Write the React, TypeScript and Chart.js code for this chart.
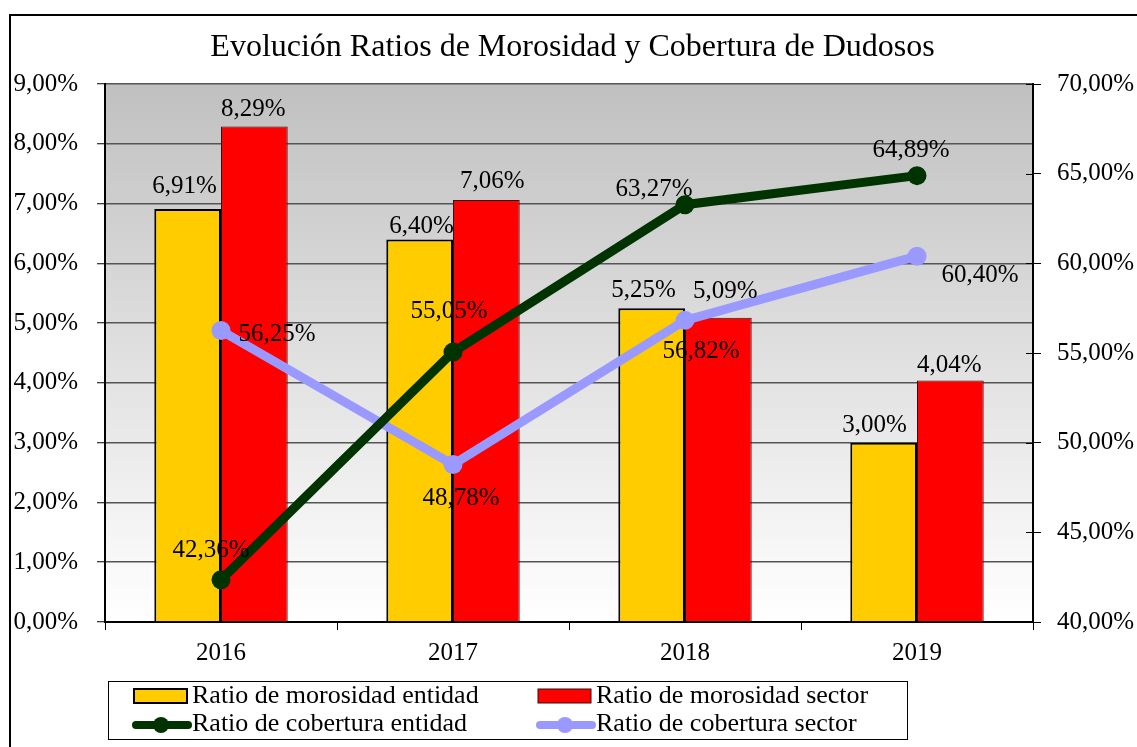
import React, { useEffect, useRef } from 'react';
import { Chart, registerables } from 'chart.js';

Chart.register(...registerables);

const FONT = "'Liberation Serif', 'Times New Roman', serif";

const chartTitle = 'Evolución Ratios de Morosidad y Cobertura de Dudosos';
const categories = ['2016', '2017', '2018', '2019'];
const seriesNames = [
  'Ratio de morosidad entidad',
  'Ratio de morosidad sector',
  'Ratio de cobertura entidad',
  'Ratio de cobertura sector',
];
const morosidadEntidad = [6.91, 6.4, 5.25, 3.0];
const morosidadSector = [8.29, 7.06, 5.09, 4.04];
const coberturaEntidad = [42.36, 55.05, 63.27, 64.89];
const coberturaSector = [56.25, 48.78, 56.82, 60.4];
const leftAxisTicks = [0, 1, 2, 3, 4, 5, 6, 7, 8, 9];
const rightAxisTicks = [40, 45, 50, 55, 60, 65, 70];

const fmt = (v: number) => v.toFixed(2).replace('.', ',') + '%';

// label placement (text centre offsets from the mark), per dataset / per point
const labelOffsets: number[][][] = [
  [[-3, -22], [2, -13], [-8, -18], [-9, -17]],
  [[-1, -17], [6, -19], [7, -26], [-1, -15]],
  [[-10, -29], [-4, -41], [-31, -15], [-6, -25]],
  [[56, 4], [8, 34], [16, 31], [63, 19]],
];

const backgroundPlugin = {
  id: 'bgPlugin',
  beforeDraw(chart: any) {
    const { ctx, chartArea: a, width, height } = chart;
    ctx.save();
    ctx.fillStyle = '#ffffff';
    ctx.fillRect(0, 0, width, height);
    const g = ctx.createLinearGradient(0, a.top, 0, a.bottom);
    g.addColorStop(0, '#c0c0c0');
    g.addColorStop(1, '#ffffff');
    ctx.fillStyle = g;
    ctx.fillRect(a.left, a.top, a.right - a.left, a.bottom - a.top);
    ctx.strokeStyle = '#000';
    ctx.lineWidth = 2;
    ctx.beginPath();
    ctx.moveTo(10, height);
    ctx.lineTo(10, 15);
    ctx.lineTo(width, 15);
    ctx.stroke();
    ctx.fillStyle = '#000';
    ctx.font = `32px ${FONT}`;
    ctx.textAlign = 'center';
    ctx.textBaseline = 'middle';
    ctx.fillText(chartTitle, width / 2 + 4, 48);
    ctx.restore();
  },
};

const overlayPlugin = {
  id: 'overlayPlugin',
  afterDraw(chart: any) {
    const { ctx } = chart;
    ctx.save();
    // inner tick marks on the right axis
    const y1 = chart.scales.y1;
    ctx.strokeStyle = '#000';
    ctx.lineWidth = 1;
    y1.ticks.forEach((t: any) => {
      const py = Math.round(y1.getPixelForValue(t.value)) + 0.5;
      ctx.beginPath();
      ctx.moveTo(y1.left - 7, py);
      ctx.lineTo(y1.left, py);
      ctx.stroke();
    });

    // data labels
    ctx.fillStyle = '#000';
    ctx.font = `25px ${FONT}`;
    ctx.textAlign = 'center';
    ctx.textBaseline = 'middle';
    chart.data.datasets.forEach((ds: any, di: number) => {
      const meta = chart.getDatasetMeta(di);
      meta.data.forEach((el: any, i: number) => {
        const [dx, dy] = labelOffsets[di][i];
        ctx.fillText(fmt(ds.data[i]), el.x + dx, el.y + dy);
      });
    });

    // legend
    const bx = 108, by = 681, bw = 799, bh = 58;
    ctx.strokeStyle = '#000';
    ctx.lineWidth = 1;
    ctx.strokeRect(bx + 0.5, by + 0.5, bw, bh);
    const cols = [134, 538];
    const rows = [696, 724];
    ctx.textAlign = 'left';
    ctx.font = `26px ${FONT}`;
    chart.data.datasets.forEach((ds: any, di: number) => {
      const cx = cols[di % 2];
      const cy = rows[Math.floor(di / 2)];
      if (ds.type === 'bar') {
        ctx.fillStyle = ds.backgroundColor;
        ctx.fillRect(cx, cy - 7, 53, 14);
        ctx.strokeStyle = ds.borderColor;
        ctx.lineWidth = ds.borderWidth;
        ctx.strokeRect(cx, cy - 7, 53, 14);
      } else {
        ctx.strokeStyle = ds.borderColor;
        ctx.lineWidth = 8;
        ctx.lineCap = 'round';
        ctx.beginPath();
        ctx.moveTo(cx + 2, cy + 1);
        ctx.lineTo(cx + 54, cy + 1);
        ctx.stroke();
        ctx.fillStyle = ds.borderColor;
        ctx.beginPath();
        ctx.arc(cx + 27, cy + 1, 8, 0, Math.PI * 2);
        ctx.fill();
      }
      ctx.fillStyle = '#000';
      ctx.fillText(ds.label, cx + 58, cy);
    });
    ctx.restore();
  },
};

export default function App() {
  const ref = useRef<HTMLCanvasElement | null>(null);
  useEffect(() => {
    if (!ref.current) return;
    const tickFont = { family: FONT, size: 25 };
    const chart = new Chart(ref.current, {
      type: 'bar',
      data: {
        labels: categories,
        datasets: [
          {
            type: 'bar',
            label: seriesNames[0],
            data: morosidadEntidad,
            backgroundColor: '#FFCC00',
            borderColor: '#000000',
            borderWidth: 2,
            yAxisID: 'y',
            order: 2,
            barPercentage: 1,
            categoryPercentage: 0.575,
          },
          {
            type: 'bar',
            label: seriesNames[1],
            data: morosidadSector,
            backgroundColor: '#FF0000',
            borderColor: '#331111',
            borderWidth: 1,
            yAxisID: 'y',
            order: 2,
            barPercentage: 1,
            categoryPercentage: 0.575,
          },
          {
            type: 'line',
            label: seriesNames[2],
            data: coberturaEntidad,
            borderColor: '#003300',
            backgroundColor: '#003300',
            borderWidth: 9,
            pointRadius: 9.5,
            pointBorderWidth: 0,
            pointBackgroundColor: '#003300',
            yAxisID: 'y1',
            order: 0,
          },
          {
            type: 'line',
            label: seriesNames[3],
            data: coberturaSector,
            borderColor: '#9999FF',
            backgroundColor: '#9999FF',
            borderWidth: 9,
            pointRadius: 9.5,
            pointBorderWidth: 0,
            pointBackgroundColor: '#9999FF',
            yAxisID: 'y1',
            order: 1,
          },
        ] as any,
      },
      options: {
        responsive: false,
        animation: false,
        devicePixelRatio: 1,
        layout: { padding: { top: 84, bottom: 85, left: 0, right: 0 } },
        plugins: {
          legend: { display: false },
          title: { display: false },
          tooltip: { enabled: false },
        },
        scales: {
          x: {
            type: 'category',
            offset: true,
            grid: {
              offset: true,
              drawOnChartArea: false,
              drawTicks: true,
              tickLength: 8,
              tickColor: '#000',
              tickWidth: 1,
            },
            border: { display: true, color: '#000', width: 2 },
            ticks: { font: tickFont, color: '#000', padding: 8, maxRotation: 0 },
            afterFit: (s: any) => {
              s.height = 40;
            },
          },
          y: {
            type: 'linear',
            position: 'left',
            min: 0,
            max: 9,
            afterBuildTicks: (s: any) => {
              s.ticks = leftAxisTicks.map((v) => ({ value: v }));
            },
            grid: {
              color: '#555555',
              lineWidth: 1.5,
              drawTicks: true,
              tickLength: 8,
              tickColor: '#000',
              tickWidth: 1,
            },
            border: { display: true, color: '#000', width: 2 },
            ticks: {
              font: tickFont,
              color: '#000',
              padding: 19,
              callback: (v: any) => fmt(Number(v)),
            },
            afterFit: (s: any) => {
              s.width = 105;
            },
          },
          y1: {
            type: 'linear',
            position: 'right',
            min: 40,
            max: 70,
            afterBuildTicks: (s: any) => {
              s.ticks = rightAxisTicks.map((v) => ({ value: v }));
            },
            grid: {
              drawOnChartArea: false,
              drawTicks: true,
              tickLength: 8,
              tickColor: '#000',
              tickWidth: 1,
            },
            border: { display: true, color: '#000', width: 2 },
            ticks: {
              font: tickFont,
              color: '#000',
              padding: 16,
              callback: (v: any) => fmt(Number(v)),
            },
            afterFit: (s: any) => {
              s.width = 104;
            },
          },
        },
      } as any,
      plugins: [backgroundPlugin, overlayPlugin],
    });
    return () => chart.destroy();
  }, []);
  return (
    <div style={{ position: 'absolute', left: 0, top: 0, width: 1137, height: 747, overflow: 'hidden' }}>
      <canvas ref={ref} width={1137} height={747} style={{ display: 'block' }} />
    </div>
  );
}
